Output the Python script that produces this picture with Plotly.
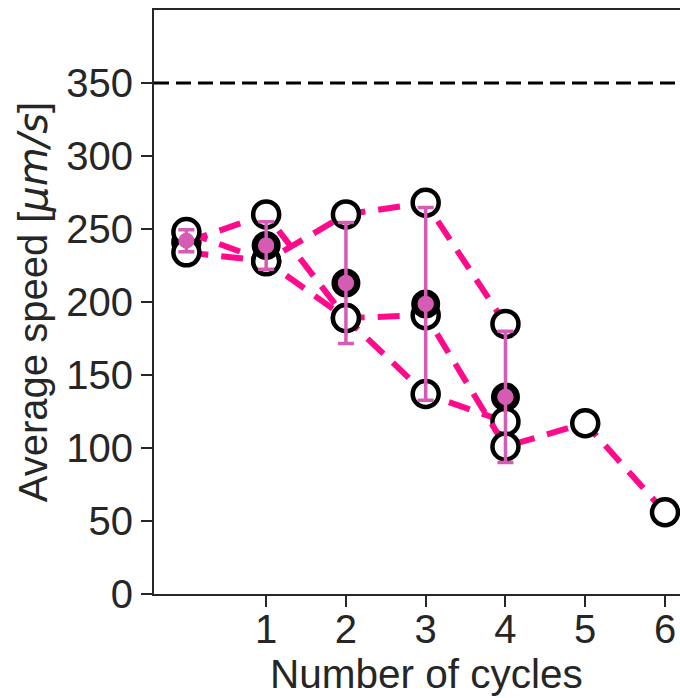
import plotly.graph_objects as go

# ---- data ----
cycles = [0, 1, 2, 3, 4, 5, 6]
rep_a = [241, 260, 189, 137, 118, None, None]
rep_b = [248, 228, 260, 268, 185, None, None]
rep_c = [234, 228, 189, 191, 101, 117, 56]
replicates = [rep_a, rep_b, rep_c]

mean_cycles = [0, 1, 2, 3, 4]
mean_speed = [242, 238.7, 213, 198.7, 135]
sd_speed = [7.5, 16.3, 41.5, 66, 45]

reference_speed = 350
x_ticks = [1, 2, 3, 4, 5, 6]
y_ticks = [0, 50, 100, 150, 200, 250, 300, 350]

LINE_PINK = "#ff0a8c"
MEAN_PINK = "#d65bb3"
AX = "#262626"
FONT = "Liberation Sans, Arial, sans-serif"

fig = go.Figure()

for rep in replicates:
    fig.add_trace(go.Scatter(
        x=cycles, y=rep, mode="lines+markers",
        line=dict(color=LINE_PINK, width=6, dash="22px,13px"),
        marker=dict(size=26, color="white", line=dict(color="black", width=4.5)),
        connectgaps=False, showlegend=False, cliponaxis=False,
    ))

# black-rimmed mean markers (cycles 1..4)
fig.add_trace(go.Scatter(
    x=mean_cycles[1:], y=mean_speed[1:], mode="markers",
    marker=dict(size=22.5, color=MEAN_PINK, line=dict(color="black", width=6.5)),
    showlegend=False,
))

# mean +/- sd
fig.add_trace(go.Scatter(
    x=mean_cycles, y=mean_speed, mode="markers",
    marker=dict(size=16, color=MEAN_PINK),
    error_y=dict(type="data", array=sd_speed, visible=True,
                 color=MEAN_PINK, thickness=3.5, width=8),
    showlegend=False,
))

fig.add_hline(y=reference_speed, line=dict(color="black", width=3, dash="15px,7px"))

fig.update_layout(
    width=680, height=698,
    margin=dict(l=154, r=0, t=10, b=104),
    paper_bgcolor="white", plot_bgcolor="white",
    font=dict(family=FONT, size=40, color=AX),
    xaxis=dict(
        range=[-0.406, 6.188], tickvals=x_ticks, ticktext=[str(t) for t in x_ticks],
        showline=True, linecolor=AX, linewidth=2, mirror=True,
        ticks="outside", ticklen=11, tickwidth=2, tickcolor=AX,
        showgrid=False, zeroline=False, ticklabelstandoff=-12,
        tickfont=dict(size=40, color=AX),
    ),
    yaxis=dict(
        range=[0, 400], tickvals=y_ticks,
        showline=True, linecolor=AX, linewidth=2,
        ticks="outside", ticklen=11, tickwidth=2, tickcolor=AX,
        showgrid=False, zeroline=False, ticklabelstandoff=0,
        tickfont=dict(size=40, color=AX),
        title=dict(
            text="Average speed [<span style='font-family:DejaVu Sans'><i>μm/s</i></span>]",
            font=dict(size=40, color=AX), standoff=6),
    ),
    annotations=[dict(
        text="Number of cycles", xref="paper", yref="paper",
        x=0.518, y=0.0, yshift=-55, xanchor="center", yanchor="top",
        showarrow=False, font=dict(size=40.5, color=AX, family=FONT),
    )],
)

fig.write_html("out.html", config={"displayModeBar": False},
               post_script="document.body.style.margin='0';")
